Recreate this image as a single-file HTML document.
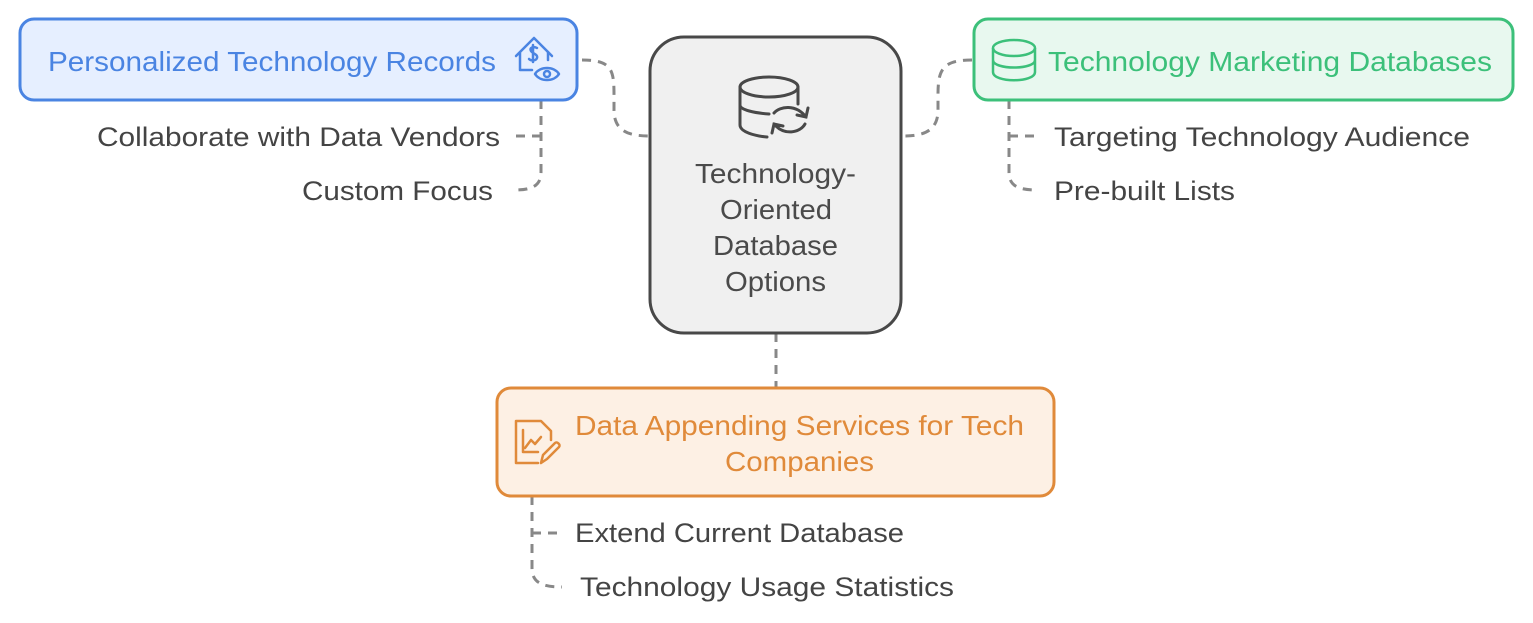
<!DOCTYPE html>
<html><head><meta charset="utf-8"><style>
html,body{margin:0;padding:0;background:#fff;}
svg{display:block;}
text{font-family:"Liberation Sans",sans-serif;}
</style></head><body>
<svg width="1533" height="623" viewBox="0 0 1533 623" xmlns="http://www.w3.org/2000/svg">
<g fill="none" stroke="#888" stroke-width="3" stroke-dasharray="9 7">
<path d="M582,60 C612,60 614,70 614,95 L614,110 C614,132 630,136 650,136"/>
<path d="M541,100 L541,172 C541,186 532,190 514,190"/>
<path d="M541,136 L512,136"/>
<path d="M972,60 C942,60 938,70 938,95 L938,110 C938,132 922,136 903,136"/>
<path d="M1009,100 L1009,172 C1009,186 1018,190 1038,190"/>
<path d="M1009,136 L1038,136"/>
<path d="M776,333 L776,388"/>
<path d="M532,496 L532,568 C532,582 541,587 562,587"/>
<path d="M532,533 L560,533"/>
</g>
<rect x="20" y="19" width="557" height="81" rx="14" fill="#e6efff" stroke="#4a84e2" stroke-width="3"/>
<rect x="974" y="19" width="539" height="81" rx="14" fill="#e8f8ef" stroke="#3cc07a" stroke-width="3"/>
<rect x="650" y="37" width="251" height="296" rx="34" fill="#f0f0f0" stroke="#484848" stroke-width="3"/>
<rect x="497" y="388" width="557" height="108" rx="14" fill="#fdf0e4" stroke="#e08a3a" stroke-width="3"/>

<text x="48" y="71" font-size="28" fill="#4a84e2" textLength="448" lengthAdjust="spacingAndGlyphs">Personalized Technology Records</text>
<text x="1048" y="71" font-size="28" fill="#3cc07a" textLength="444" lengthAdjust="spacingAndGlyphs">Technology Marketing Databases</text>
<g font-size="28" fill="#4a4a4a">
<text x="695" y="183" textLength="161" lengthAdjust="spacingAndGlyphs">Technology-</text>
<text x="720" y="219" textLength="112" lengthAdjust="spacingAndGlyphs">Oriented</text>
<text x="713" y="255" textLength="125" lengthAdjust="spacingAndGlyphs">Database</text>
<text x="725" y="291" textLength="101" lengthAdjust="spacingAndGlyphs">Options</text>
</g>
<g font-size="28" fill="#e08a3a">
<text x="575" y="435" textLength="449" lengthAdjust="spacingAndGlyphs">Data Appending Services for Tech</text>
<text x="725" y="471" textLength="149" lengthAdjust="spacingAndGlyphs">Companies</text>
</g>
<g font-size="27" fill="#444">
<text x="500" y="146" text-anchor="end" textLength="403" lengthAdjust="spacingAndGlyphs">Collaborate with Data Vendors</text>
<text x="493" y="200" text-anchor="end" textLength="191" lengthAdjust="spacingAndGlyphs">Custom Focus</text>
<text x="1054" y="146" textLength="416" lengthAdjust="spacingAndGlyphs">Targeting Technology Audience</text>
<text x="1054" y="200" textLength="181" lengthAdjust="spacingAndGlyphs">Pre-built Lists</text>
<text x="575" y="542" textLength="329" lengthAdjust="spacingAndGlyphs">Extend Current Database</text>
<text x="580" y="596" textLength="374" lengthAdjust="spacingAndGlyphs">Technology Usage Statistics</text>
</g>

<g fill="none" stroke="#4a84e2" stroke-width="2.5" stroke-linecap="round" stroke-linejoin="round">
<path d="M516,56 L534,38 L552,56 M520,52 L520,70 L532,70"/>
<path d="M548,52 L548,60"/>
<path d="M537,48 C533,46 529,48 531,51 C533,54 538,54 537,58 C536,61 531,61 529,59 M533,45 L533,62"/>
<path d="M535,74 C540,66 554,66 559,74 C554,82 540,82 535,74 Z"/>
<circle cx="547" cy="74" r="3"/>
</g>
<g fill="none" stroke="#3cc07a" stroke-width="2.5">
<ellipse cx="1014" cy="48" rx="21" ry="8"/>
<path d="M993,48 L993,72 C993,83 1035,83 1035,72 L1035,48 M993,60 C993,70 1035,70 1035,60"/>
</g>
<g fill="none" stroke="#484848" stroke-width="3" stroke-linecap="round">
<ellipse cx="769" cy="87" rx="29" ry="10"/>
<path d="M740,87 L740,125 C740,132 755,136 767,137 M798,87 L798,104 M740,105 C740,110 755,113 769,114"/>
<path d="M774,113 C780,106 796,104 806,117 M808,108 L806,117 L797,115"/>
<path d="M805,124 C800,133 784,136 774,124 M772,133 L774,124 L783,126"/>
</g>
<g fill="none" stroke="#e08a3a" stroke-width="2.5" stroke-linecap="round" stroke-linejoin="round">
<path d="M538,463 L516,463 L516,421 L541,421 L551,431 L551,440"/>
<path d="M523,430 L523,452 L538,452 M525,448 L531,440 L535,444 L541,437"/>
<path d="M541,463 L543,455 L555,443 C557,441 561,445 559,447 L547,459 Z"/>
</g>
</svg>
</body></html>
